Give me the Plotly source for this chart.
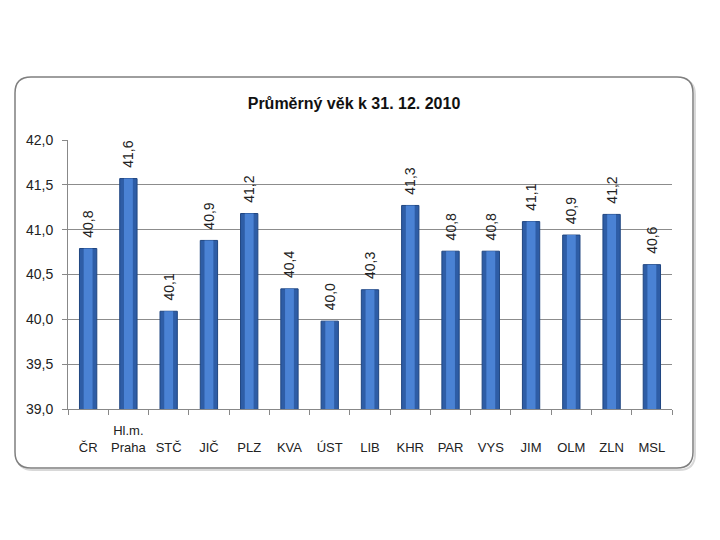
import plotly.graph_objects as go

categories = ["ČR", "Hl.m. Praha", "STČ", "JIČ", "PLZ", "KVA", "ÚST", "LIB", "KHR", "PAR", "VYS", "JIM", "OLM", "ZLN", "MSL"]
tick_labels = ["<br>ČR", "Hl.m.<br>Praha", "<br>STČ", "<br>JIČ", "<br>PLZ", "<br>KVA", "<br>ÚST", "<br>LIB",
               "<br>KHR", "<br>PAR", "<br>VYS", "<br>JIM", "<br>OLM", "<br>ZLN", "<br>MSL"]
values = [40.79, 41.57, 40.09, 40.88, 41.18, 40.34, 39.98, 40.33, 41.27, 40.76, 40.76, 41.09, 40.94, 41.17, 40.61]
value_labels = ["40,8", "41,6", "40,1", "40,9", "41,2", "40,4", "40,0", "40,3", "41,3", "40,8", "40,8", "41,1", "40,9", "41,2", "40,6"]
y_ticks = [39.0, 39.5, 40.0, 40.5, 41.0, 41.5, 42.0]
title_text = "Průměrný věk k 31. 12. 2010"

FONT = "Liberation Sans"

fig = go.Figure()
fig.add_trace(go.Bar(
    x=categories, y=values,
    text=value_labels, texttemplate="\u00a0\u00a0%{text}",
    textposition="outside", textangle=-90, constraintext="none",
    textfont=dict(family=FONT, size=14, color="#222222"),
    cliponaxis=False,
    marker=dict(color="#2E5DA6", line=dict(color="#1F4580", width=1)),
    width=0.43, hoverinfo="skip",
))
fig.add_trace(go.Bar(
    x=categories, y=values,
    marker=dict(color="#4A82D4", line=dict(width=0)),
    width=0.22, hoverinfo="skip",
))

L, R, T, B = 68, 672, 140, 409
W, H = R - L, B - T
def px(x):
    return (x - L) / W
def py(y):
    return (B - y) / H
fx0, fx1, fy0, fy1 = 15, 693, 77, 468
r = 16
def rounded(x0, y0, x1, y1, r):
    return (f"M {px(x0 + r)},{py(y0)} L {px(x1 - r)},{py(y0)} Q {px(x1)},{py(y0)} {px(x1)},{py(y0 + r)} "
            f"L {px(x1)},{py(y1 - r)} Q {px(x1)},{py(y1)} {px(x1 - r)},{py(y1)} "
            f"L {px(x0 + r)},{py(y1)} Q {px(x0)},{py(y1)} {px(x0)},{py(y1 - r)} "
            f"L {px(x0)},{py(y0 + r)} Q {px(x0)},{py(y0)} {px(x0 + r)},{py(y0)} Z")

fig.add_shape(type="path", xref="paper", yref="paper", path=rounded(fx0 + 2, fy0 + 2, fx1 + 2, fy1 + 2, r),
              line=dict(color="#d8d8d8", width=2), layer="below")
fig.add_shape(type="path", xref="paper", yref="paper", path=rounded(fx0, fy0, fx1, fy1, r),
              line=dict(color="#7f7f7f", width=1.5), fillcolor="white", layer="below")

fig.update_layout(
    width=720, height=540,
    margin=dict(l=L, r=720 - R, t=T, b=540 - B, autoexpand=False),
    paper_bgcolor="white", plot_bgcolor="rgba(0,0,0,0)",
    separators=",.",
    showlegend=False,
    barmode="overlay",
    title=dict(text=f"<b>{title_text}</b>", x=354 / 720, xanchor="center",
               y=1 - 103 / 540, yanchor="middle", yref="container",
               font=dict(family=FONT, size=16, color="#111111")),
    font=dict(family=FONT, size=13, color="#222222"),
)
fig.update_xaxes(
    tickmode="array", tickvals=categories, ticktext=tick_labels, tickangle=0, automargin=False,
    showline=True, linecolor="#888888", linewidth=1,
    ticks="outside", tickson="boundaries", ticklen=5, tickcolor="#888888",
    showgrid=False, ticklabelstandoff=9,
    tickfont=dict(family=FONT, size=13, color="#222222"),
)
fig.update_yaxes(
    range=[39.0, 42.0], tickvals=y_ticks, tickformat=".1f", automargin=False,
    showline=True, linecolor="#888888", linewidth=1,
    ticks="outside", ticklen=5, tickcolor="#888888",
    showgrid=True, gridcolor="#8c8c8c", gridwidth=1,
    zeroline=False, ticklabelstandoff=6,
    tickfont=dict(family=FONT, size=14, color="#222222"),
)

fig.write_html("out.html", config={"displayModeBar": False},
               post_script="document.body.style.margin='0';")
